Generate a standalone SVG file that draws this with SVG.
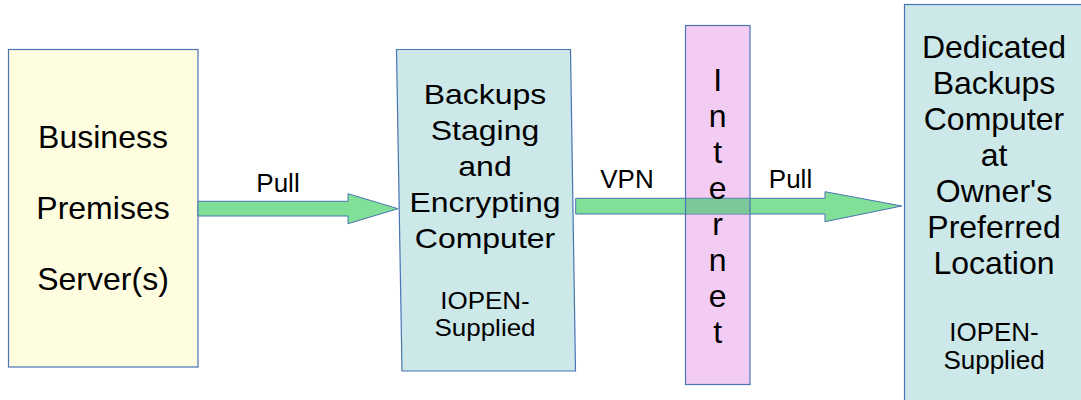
<svg xmlns="http://www.w3.org/2000/svg" width="1081" height="400" viewBox="0 0 1081 400">
<style>
  .box{stroke:#4a74b4;stroke-width:1.2}
  .arrow{fill:#80e098;stroke:#4a74b4;stroke-width:1}
  text{font-family:"Liberation Sans",Arial,sans-serif;fill:#000;text-anchor:middle}
  .big{font-size:32px}
  .mid{font-size:26px}
</style>
<rect width="1081" height="400" fill="#ffffff"/>
<g id="server">
  <rect class="box" x="8.5" y="49.5" width="189.5" height="317.5" fill="#fffde0"/>
  <text class="big" x="103" y="148">Business</text>
  <text class="big" x="103" y="219">Premises</text>
  <text class="big" x="103" y="290">Server(s)</text>
</g>
<g id="staging">
  <polygon class="box" points="396.5,49.5 570.5,49.5 575.5,371 402,371" fill="#cde8e8"/>
  <g transform="translate(485,0)">
    <text class="big" transform="translate(0,103.5) scale(1,0.86)">Backups</text>
    <text class="big" transform="translate(0,139.5) scale(1,0.86)">Staging</text>
    <text class="big" transform="translate(0,175.5) scale(1,0.86)">and</text>
    <text class="big" transform="translate(0,211.5) scale(1,0.86)">Encrypting</text>
    <text class="big" transform="translate(0,247.5) scale(1,0.86)">Computer</text>
    <text class="mid" transform="translate(0,308.5) scale(1,0.9)">IOPEN-</text>
    <text class="mid" transform="translate(0,336) scale(1,0.9)">Supplied</text>
  </g>
</g>
<g id="internet">
  <rect class="box" x="685.5" y="25.5" width="64.5" height="359" fill="#f2ccf2"/>
</g>
<g id="destination">
  <rect class="box" x="904.5" y="4.5" width="200" height="420" fill="#cde8e8"/>
  <text class="big" x="994" y="58.3">Dedicated</text>
  <text class="big" x="994" y="94.3">Backups</text>
  <text class="big" x="994" y="130.3">Computer</text>
  <text class="big" x="994" y="166.3">at</text>
  <text class="big" x="994" y="202.3">Owner's</text>
  <text class="big" x="994" y="238.3">Preferred</text>
  <text class="big" x="994" y="274.3">Location</text>
  <text class="mid" x="994" y="341">IOPEN-</text>
  <text class="mid" x="994" y="369">Supplied</text>
</g>
<g id="connectors">
  <polygon class="arrow" points="198,201.3 348,201.3 348,193.7 398,208.7 348,223.7 348,216 198,216"/>
  <text class="mid" x="278" y="192">Pull</text>
  <polygon class="arrow" points="575.7,198.3 825,198.3 825,191.7 901.7,206 825,221.7 825,214 575.7,214"/>
  <rect x="685.5" y="198.8" width="64.5" height="14.7" fill="#7cc898"/>
  <line x1="685.5" y1="198.3" x2="685.5" y2="214" stroke="#4a74b4" stroke-width="1.2"/>
  <line x1="750" y1="198.3" x2="750" y2="214" stroke="#4a74b4" stroke-width="1.2"/>
  <text class="mid" x="627" y="188.3">VPN</text>
  <text class="mid" x="790.5" y="188.3">Pull</text>
</g>
<g id="internet-label">
  <text class="big" x="717.7" y="90.7">I</text>
  <text class="big" x="717.7" y="126.7">n</text>
  <text class="big" x="717.7" y="162.7">t</text>
  <text class="big" x="717.7" y="198.7">e</text>
  <text class="big" x="717.7" y="234.7">r</text>
  <text class="big" x="717.7" y="270.7">n</text>
  <text class="big" x="717.7" y="306.7">e</text>
  <text class="big" x="717.7" y="342.7">t</text>
</g>
</svg>
